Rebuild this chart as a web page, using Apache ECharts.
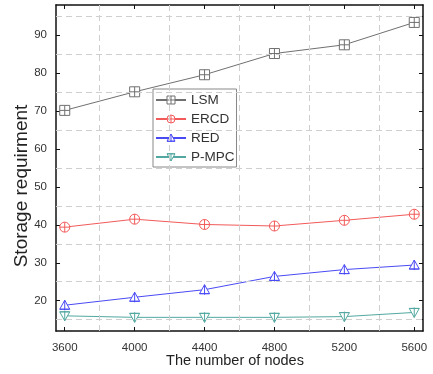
<!DOCTYPE html>
<html>
<head>
<meta charset="utf-8">
<script src="https://cdn.jsdelivr.net/npm/echarts@6/dist/echarts.min.js"></script>
<style>html,body{margin:0;padding:0;background:#fff}#c{width:433px;height:374px}</style>
</head>
<body>
<div id="c"></div>
<script>
var nodes = [3600, 4000, 4400, 4800, 5200, 5600];
var lsm  = [70.2, 75.1, 79.6, 85.2, 87.5, 93.4];
var ercd = [39.4, 41.5, 40.1, 39.7, 41.2, 42.8];
var red  = [18.8, 20.9, 22.9, 26.4, 28.2, 29.4];
var pmpc = [16.0, 15.6, 15.6, 15.6, 15.8, 16.9];
var seriesNames = ['LSM', 'ERCD', 'RED', 'P-MPC'];
var xLabels = [3600, 4000, 4400, 4800, 5200, 5600];
var xTicks = [3600, 3800, 4000, 4200, 4400, 4600, 4800, 5000, 5200, 5400, 5600];
var xGrid = [3800, 4200, 4600, 5000, 5400];
var yLabels = [20, 30, 40, 50, 60, 70, 80, 90];
var yTicks = [15, 20, 25, 30, 35, 40, 45, 50, 55, 60, 65, 70, 75, 80, 85, 90, 95];
var yGrid = [15, 25, 35, 45, 55, 65, 75, 85, 95];

function pairs(ys) { return nodes.map(function (x, i) { return [x, ys[i]]; }); }

var colors = ['#707070', '#f25a5a', '#4a4af5', '#52a8a0'];
var syms = [
  'path://M0,0H10V10H0Z M5,0V10 M0,5H10',
  'path://M0,5A5,5 0 1,1 10,5A5,5 0 1,1 0,5Z M5,0V10 M0,5H10',
  'path://M5,0L10,9H0Z M5,0V10 M0,9H10',
  'path://M0,1H10L5,10Z M5,0V10 M0,1H10'
];
var dataSets = [lsm, ercd, red, pmpc];

function mk(i) {
  return {
    name: seriesNames[i], type: 'line', data: pairs(dataSets[i]), symbol: syms[i], symbolSize: 10,
    lineStyle: { color: colors[i], width: 1 },
    itemStyle: { color: '#ffffff', opacity: 1, borderColor: colors[i], borderWidth: 1 },
    z: 3
  };
}

var gridLine = { color: '#cfcfcf', type: [6, 4], width: 1 };
var markData = xGrid.map(function (v) { return { xAxis: v }; })
  .concat(yGrid.map(function (v) { return { yAxis: v }; }));

var axisLine = { show: true, lineStyle: { color: '#111', width: 1.5 } };
var tickFont = 'Liberation Sans Narrow, Liberation Sans, Arial';
var chart = echarts.init(document.getElementById('c'));
chart.setOption({
  animation: false,
  backgroundColor: '#fff',
  grid: { left: 56, right: 10, top: 5, bottom: 43 },
  graphic: [
    { type: 'text', x: 22, y: 186, rotation: Math.PI / 2,
      style: { text: 'Storage requirment', fontSize: 19, fill: '#222', fontFamily: 'Liberation Sans, Arial', align: 'center', verticalAlign: 'middle' } },
    { type: 'text', x: 235, y: 361,
      style: { text: 'The number of nodes', fontSize: 14.5, fill: '#222', fontFamily: 'Liberation Sans, Arial', align: 'center', verticalAlign: 'middle' } }
  ],
  xAxis: [
    { type: 'value', min: 3550, max: 5650, position: 'bottom',
      axisLine: axisLine,
      axisTick: { show: true, inside: true, length: 4, customValues: xTicks, lineStyle: { color: '#111' } },
      axisLabel: { customValues: xLabels, formatter: function (v) { return String(v); }, color: '#333', fontSize: 11.5, fontFamily: tickFont, margin: 11 },
      splitLine: { show: false } },
    { type: 'value', min: 3550, max: 5650, position: 'top',
      axisLine: axisLine,
      axisTick: { show: true, inside: true, length: 4, customValues: xTicks, lineStyle: { color: '#111' } },
      axisLabel: { show: false }, splitLine: { show: false } }
  ],
  yAxis: [
    { type: 'value', min: 12, max: 98, position: 'left',
      axisLine: axisLine,
      axisTick: { show: true, inside: true, length: 4, customValues: yTicks, lineStyle: { color: '#111' } },
      axisLabel: { customValues: yLabels, formatter: function (v) { return String(v); }, color: '#333', fontSize: 11.5, fontFamily: tickFont, margin: 9 },
      splitLine: { show: false } },
    { type: 'value', min: 12, max: 98, position: 'right',
      axisLine: axisLine,
      axisTick: { show: true, inside: true, length: 4, customValues: yTicks, lineStyle: { color: '#111' } },
      axisLabel: { show: false }, splitLine: { show: false } }
  ],
  legend: {
    orient: 'vertical', left: 153, top: 89,
    backgroundColor: '#fff', borderColor: '#888', borderWidth: 1,
    padding: [4, 2, 3, 2], itemGap: 5, itemWidth: 30, itemHeight: 10,
    textStyle: { fontSize: 13.5, color: '#333', fontFamily: 'Liberation Sans, Arial' },
    data: seriesNames.map(function (n, i) {
      return { name: n, itemStyle: { color: '#ffffff', borderColor: colors[i], borderWidth: 1 } };
    })
  },
  series: [
    { type: 'line', data: [], silent: true, z: 1,
      markLine: { silent: true, symbol: 'none', label: { show: false }, lineStyle: gridLine, data: markData } }
  ].concat([0, 1, 2, 3].map(mk))
});
</script>
</body>
</html>
